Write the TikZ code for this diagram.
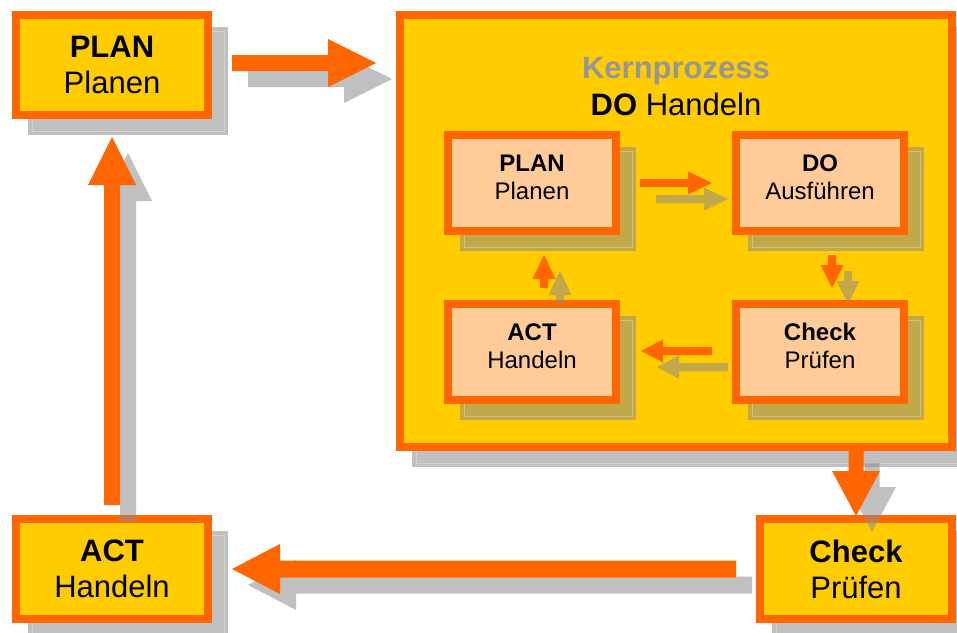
\documentclass[tikz,border=0pt]{standalone}
\usepackage{fontspec}
\setmainfont{Liberation Sans}
\usetikzlibrary{calc}

\definecolor{pdcaorange}{HTML}{FF6600}
\definecolor{pdcayellow}{HTML}{FFCC00}
\definecolor{pdcapeach}{HTML}{FFCC99}
\definecolor{shadowgray}{HTML}{8B8B8B}
\definecolor{titlegray}{HTML}{969696}

\pgfdeclarelayer{bigshadow}
\pgfdeclarelayer{bigbox}
\pgfdeclarelayer{smallshadow}
\pgfsetlayers{bigshadow,bigbox,smallshadow,main}

\tikzset{
  bigbox/.style={draw=pdcaorange, fill=pdcayellow, line width=8pt,
    minimum width=192pt, minimum height=100pt, inner sep=0pt, outer sep=0pt,
    align=center, font=\fontsize{31}{36}\selectfont},
  smallbox/.style={draw=pdcaorange, fill=pdcapeach, line width=8pt,
    minimum width=168pt, minimum height=96pt, inner sep=0pt, outer sep=0pt,
    align=center, font=\fontsize{24}{28}\selectfont, text depth=12pt},
  shade fill/.style={fill=shadowgray, fill opacity=0.54},
  shade rim/.style={draw=white, draw opacity=0.3, line width=0.8pt},
  shadow shift/.style={transform canvas={shift={(16pt,-16pt)}}},
}

% outline of a block arrow: #1 start, #2 tip, #3 half shaft, #4 half head
\newcommand\bapath[4]{($(#1)!#3!90:(#2)$) -- ($(ba-hb)!#3!90:(#2)$)
  -- ($(ba-hb)!#4!90:(#2)$) -- (#2) -- ($(ba-hb)!#4!-90:(#2)$)
  -- ($(ba-hb)!#3!-90:(#2)$) -- ($(#1)!#3!-90:(#2)$) -- cycle}

% block arrow with drop shadow: #5 head length
\newcommand\blockarrow[5]{%
  \coordinate (ba-hb) at ($(#2)!#5!(#1)$);
  \begin{scope}[shadow shift]
    \fill[shade fill] \bapath{#1}{#2}{#3}{#4};
  \end{scope}
  \fill[pdcaorange] \bapath{#1}{#2}{#3}{#4};
}

% drop shadow of a framed node (border 8pt)
\newcommand\boxshadow[1]{%
  \begin{scope}[shadow shift]
    \fill[shade fill] ([shift={(-4pt,-4pt)}]#1.south west) rectangle ([shift={(4pt,4pt)}]#1.north east);
    \draw[shade rim] (#1.south west) rectangle (#1.north east);
  \end{scope}
}

\begin{document}
\begin{tikzpicture}[x=1pt, y=-1pt]
\useasboundingbox (0,0) rectangle (957,632);

% outer cycle boxes
\begin{pgfonlayer}{bigbox}
  \node[bigbox, minimum width=552pt, minimum height=432pt] (kern) at (676,231) {};
  \node[bigbox] (plan) at (112,65) {\textbf{PLAN}\\Planen};
  \node[bigbox] (act) at (112,569) {\textbf{ACT}\\Handeln};
  \node[bigbox] (check) at (856,569) {\textbf{Check}\\Prüfen};
\end{pgfonlayer}
\begin{pgfonlayer}{bigshadow}
  \boxshadow{kern}
  \boxshadow{plan}
  \boxshadow{act}
  \boxshadow{check}
\end{pgfonlayer}

% title of the core process
\node[anchor=base, font=\fontsize{31}{36}\selectfont\bfseries, text=titlegray, inner sep=0pt]
  (kerntitle) at (676,78) {Kernprozess};
\node[anchor=base, font=\fontsize{31}{36}\selectfont, inner sep=0pt]
  (kernsub) at (676,115) {\textbf{DO} Handeln};

% inner cycle boxes
\node[smallbox] (iplan) at (532,183) {\textbf{PLAN}\\Planen};
\node[smallbox] (ido) at (820,183) {\textbf{DO}\\Ausführen};
\node[smallbox] (icheck) at (820,352) {\textbf{Check}\\Prüfen};
\node[smallbox] (iact) at (532,352) {\textbf{ACT}\\Handeln};
\begin{pgfonlayer}{smallshadow}
  \boxshadow{iplan}
  \boxshadow{ido}
  \boxshadow{icheck}
  \boxshadow{iact}
\end{pgfonlayer}

% inner cycle arrows
\coordinate (ipd-s) at (640,183);  \coordinate (ipd-t) at (712,183);
\coordinate (idc-s) at (832,255);  \coordinate (idc-t) at (832,288);
\coordinate (ica-s) at (712,351);  \coordinate (ica-t) at (641,351);
\coordinate (iap-s) at (544,288);  \coordinate (iap-t) at (544,255);
\blockarrow{ipd-s}{ipd-t}{4pt}{11.5pt}{24pt}
\blockarrow{idc-s}{idc-t}{4pt}{11.5pt}{23pt}
\blockarrow{ica-s}{ica-t}{4pt}{11.5pt}{22pt}
\blockarrow{iap-s}{iap-t}{4pt}{11.5pt}{24pt}

% outer cycle arrows
\coordinate (pk-s) at (232,63);   \coordinate (pk-t) at (376,63);
\coordinate (kc-s) at (856,447);  \coordinate (kc-t) at (856,516);
\coordinate (ca-s) at (736,569);  \coordinate (ca-t) at (232,569);
\coordinate (ap-s) at (112,505);  \coordinate (ap-t) at (112,137);
\blockarrow{pk-s}{pk-t}{8pt}{24pt}{48pt}
\blockarrow{kc-s}{kc-t}{7.5pt}{24pt}{45pt}
\blockarrow{ca-s}{ca-t}{8.5pt}{25pt}{48pt}
\blockarrow{ap-s}{ap-t}{8pt}{24pt}{48pt}
\end{tikzpicture}
\end{document}
